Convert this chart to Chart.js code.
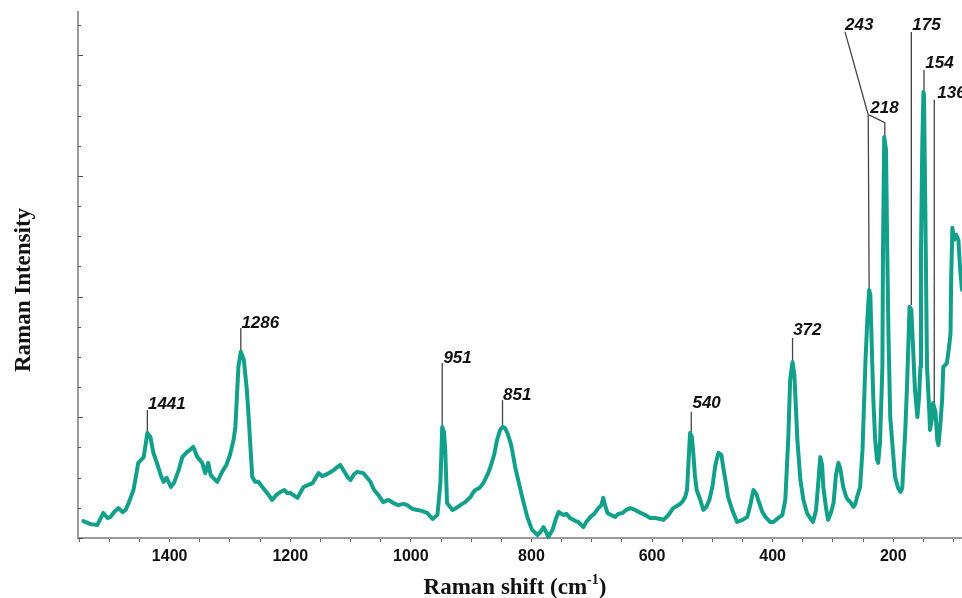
<!DOCTYPE html>
<html>
<head>
<meta charset="utf-8">
<script src="https://cdn.jsdelivr.net/npm/chart.js@4"></script>
<style>html,body{margin:0;padding:0;background:#fff}canvas{display:block}</style>
</head>
<body>
<canvas id="c" width="962" height="598"></canvas>
<script>
// Raman shift (cm-1) and intensity (arbitrary units, 1 unit = one minor y tick)
const shifts=[1543,1531,1520,1510,1503,1498,1492,1485,1478,1473,1468,1460,1452,1443,1437,1432,1427,1420,1415,1410,1405,1398,1393,1385,1379,1371,1366,1361,1354,1346,1341,1336,1332,1329,1321,1313,1306,1300,1294,1291,1286,1282,1277,1272,1269,1263,1258,1253,1245,1236,1230,1223,1216,1210,1205,1200,1188,1178,1170,1163,1153,1147,1142,1133,1128,1122,1117,1112,1105,1100,1094,1089,1079,1072,1067,1061,1054,1046,1037,1029,1021,1012,1006,997,989,981,973,964,956,951,948,945,943,940,931,925,918,910,901,896,893,886,880,873,868,862,857,852,848,844,840,835,832,827,822,815,807,799,790,785,780,775,772,765,760,755,747,742,736,727,722,714,709,702,696,689,684,681,678,674,668,661,656,649,643,636,628,619,611,603,595,586,581,573,565,556,550,545,542,537,534,532,529,526,520,515,510,505,500,495,490,485,482,477,474,467,459,450,442,437,432,427,424,417,412,404,399,391,384,379,374,371,367,364,362,359,354,349,343,338,333,328,324,321,318,316,311,308,303,299,295,291,288,283,278,275,271,266,263,260,255,251,246,243,240,238,235,233,230,227,225,222,218,217,215,212,210,208,205,200,197,192,188,185,183,180,177,173,170,167,164,160,157,155,154,152,150,149,147,144,140,139,135,134,130,127,125,122,119,117,114,111,107,105,104,102,99,96,92,89,86];
const intensity=[0.56,0.46,0.43,0.83,0.66,0.70,0.86,0.99,0.86,0.93,1.16,1.59,2.49,2.68,3.48,3.35,2.82,2.42,2.09,1.86,1.99,1.69,1.82,2.25,2.68,2.85,2.92,3.02,2.68,2.49,2.15,2.49,2.09,2.02,1.86,2.19,2.42,2.75,3.25,3.68,5.67,6.17,5.90,4.91,4.01,2.02,1.86,1.86,1.66,1.43,1.26,1.43,1.53,1.59,1.49,1.49,1.33,1.69,1.76,1.82,2.15,2.05,2.09,2.19,2.25,2.35,2.42,2.25,2.02,1.92,2.12,2.19,2.15,1.99,1.86,1.59,1.43,1.19,1.26,1.16,1.09,1.13,1.09,0.96,0.93,0.89,0.83,0.63,0.76,1.82,3.68,3.51,2.92,1.16,0.93,0.99,1.09,1.19,1.36,1.53,1.59,1.66,1.82,2.09,2.35,2.75,3.25,3.58,3.68,3.65,3.48,3.18,2.92,2.35,1.92,1.33,0.70,0.27,0.10,0.20,0.36,0.17,0.03,0.27,0.60,0.86,0.76,0.80,0.66,0.56,0.53,0.36,0.53,0.70,0.80,0.99,1.09,1.33,1.09,0.83,0.76,0.70,0.80,0.83,0.93,0.99,0.93,0.83,0.76,0.66,0.66,0.63,0.60,0.76,0.99,1.09,1.19,1.36,1.59,3.48,3.35,2.92,2.09,1.59,1.26,0.93,1.03,1.26,1.69,2.42,2.82,2.75,2.35,1.76,1.36,0.93,0.53,0.60,0.70,1.09,1.59,1.46,1.26,0.86,0.70,0.53,0.53,0.66,0.76,1.26,3.35,5.24,5.83,5.40,4.57,3.25,1.92,1.26,0.83,0.66,0.53,0.93,1.92,2.68,2.42,1.69,0.93,0.60,0.86,1.16,2.09,2.49,2.32,1.69,1.36,1.26,1.19,1.03,1.13,1.36,1.69,2.92,5.90,7.23,8.22,8.06,5.90,4.57,3.25,2.59,2.49,3.15,5.67,9.55,13.29,12.86,9.55,6.79,4.01,2.75,2.02,1.66,1.53,1.66,2.49,3.58,5.14,7.66,7.56,6.23,4.91,4.01,4.74,5.67,9.55,12.86,14.78,14.68,11.20,5.67,4.08,3.58,4.08,4.47,4.18,3.25,3.08,3.75,4.57,5.67,5.73,5.80,6.40,6.79,8.55,10.28,9.88,10.05,9.88,8.89,8.22];
const xTicks=[100,150,200,250,300,350,400,450,500,550,600,650,700,750,800,850,900,950,1000,1050,1100,1150,1200,1250,1300,1350,1400,1450,1500,1550];
const yTicks=[0,1,2,3,4,5,6,7,8,9,10,11,12,13,14,15,16,17];
// peak annotations: text, text anchor (shift, intensity), leader polyline
const peakNames=['1441','1286','951','851','540','372','243','218','175','154','136'];
const peakTextX=[1436,1281,946,847,533,366,280,238,168.5,147,127];
const peakTextY=[4.28,6.96,5.80,4.57,4.31,6.73,16.84,14.09,16.84,15.58,14.58];
const leaders=[
  [[1437,4.24],[1437,3.5]],
  [[1282,6.96],[1282,6.2]],
  [[948,5.8],[948,3.7]],
  [[848,4.57],[848,3.7]],
  [[535,4.18],[535,3.5]],
  [[367,6.63],[367,5.85]],
  [[280,16.77],[241.5,14.02],[240,8.22]],
  [[240,14.02],[214,13.76],[214,13.29]],
  [[170,16.77],[170,7.72]],
  [[149,15.51],[149,14.78]],
  [[132,14.52],[132,4.5]]
];

const decor={
  id:'decor',
  beforeDatasetsDraw(chart){
    const {ctx,scales:{x,y}}=chart;
    ctx.save();
    ctx.strokeStyle='#444';ctx.lineWidth=1.3;
    leaders.forEach(pts=>{
      ctx.beginPath();
      pts.forEach((p,i)=>{const px=x.getPixelForValue(p[0]),py=y.getPixelForValue(p[1]);i?ctx.lineTo(px,py):ctx.moveTo(px,py);});
      ctx.stroke();
    });
    ctx.restore();
  },
  afterDraw(chart){
    const {ctx,scales:{x,y},chartArea:a}=chart;
    ctx.save();
    // inner y ticks
    ctx.strokeStyle='#555';ctx.lineWidth=1;
    yTicks.forEach(v=>{const py=Math.round(y.getPixelForValue(v))+0.5,len=v%4===0?5:3;ctx.beginPath();ctx.moveTo(a.left,py);ctx.lineTo(a.left+len,py);ctx.stroke();});
    // peak labels
    ctx.fillStyle='#111';ctx.textAlign='left';ctx.textBaseline='alphabetic';
    ctx.font='italic bold 17px "Liberation Sans", Arial, sans-serif';
    peakNames.forEach((t,i)=>ctx.fillText(t,x.getPixelForValue(peakTextX[i]),y.getPixelForValue(peakTextY[i])));
    // x title with superscript
    const big='bold 23px "Liberation Serif", "Times New Roman", serif',small='bold 14px "Liberation Serif", "Times New Roman", serif';
    const p1='Raman shift (cm',p2='-1',p3=')';
    ctx.font=big;const w1=ctx.measureText(p1).width,w3=ctx.measureText(p3).width;
    ctx.font=small;const w2=ctx.measureText(p2).width;
    let tx=515-(w1+w2+w3)/2;const ty=594;
    ctx.font=big;ctx.fillText(p1,tx,ty);tx+=w1;
    ctx.font=small;ctx.fillText(p2,tx,ty-10);tx+=w2;
    ctx.font=big;ctx.fillText(p3,tx,ty);
    // y title
    ctx.translate(30,290);ctx.rotate(-Math.PI/2);ctx.textAlign='center';
    ctx.fillText('Raman Intensity',0,0);
    ctx.restore();
  }
};

new Chart(document.getElementById('c'),{
  type:'line',
  data:{datasets:[{data:shifts.map((s,i)=>({x:s,y:intensity[i]})),borderColor:'#12a08b',borderWidth:4,borderJoinStyle:'round',borderCapStyle:'round',pointRadius:0,tension:0,fill:false,clip:false}]},
  options:{
    responsive:false,animation:false,events:[],
    layout:{padding:{top:12,left:0,right:0,bottom:0}},
    plugins:{legend:{display:false},tooltip:{enabled:false}},
    scales:{
      x:{type:'linear',reverse:true,min:86,max:1552,
        afterBuildTicks:s=>{s.ticks=xTicks.map(v=>({value:v}));},
        afterFit:s=>{s.height=60;},
        ticks:{autoSkip:false,maxRotation:0,padding:5,color:'#111',font:{family:'"Liberation Sans", Arial, sans-serif',size:16,weight:'bold'},callback:v=>v%200===0?String(v):''},
        grid:{drawOnChartArea:false,tickLength:4,color:'#666'},
        border:{color:'#9a9a9a',width:2}},
      y:{min:0,max:17.43,
        afterFit:s=>{s.width=78;},
        ticks:{display:false},
        grid:{display:false},
        border:{display:true,color:'#9a9a9a',width:2}}
    }
  },
  plugins:[decor]
});
</script>
</body>
</html>
